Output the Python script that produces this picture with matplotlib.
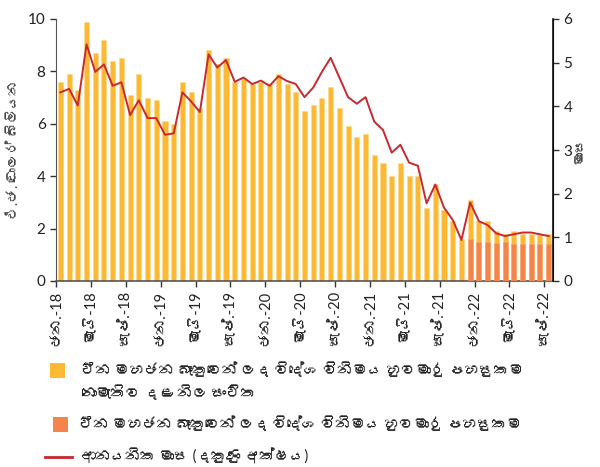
import matplotlib
matplotlib.use("Agg")
import matplotlib.pyplot as plt
from matplotlib import font_manager
from matplotlib.ft2font import FT2Font
from matplotlib.patches import Rectangle
from matplotlib.lines import Line2D
import numpy as np
import pandas as pd

# Monthly data, January 2018 - September 2022
months = pd.period_range("2018-01", "2022-09", freq="M")

# Gross official reserves (USD bn)
reserves = [7.6, 7.9, 7.3, 9.9, 8.7, 9.2, 8.4, 8.5, 7.1, 7.9, 7.0, 6.9,
            6.1, 6.0, 7.6, 7.2, 6.6, 8.8, 8.3, 8.5, 7.6, 7.7, 7.5, 7.6,
            7.5, 7.9, 7.5, 7.2, 6.5, 6.7, 7.0, 7.4, 6.6, 5.9, 5.5, 5.6,
            4.8, 4.5, 4.0, 4.5, 4.0, 4.0, 2.8, 3.7, 2.7, 2.3, 1.6,
            3.1, 2.3, 2.3, 1.9, 1.8, 1.9, 1.8, 1.8, 1.8, 1.8]

# PBOC swap facility component (USD bn)
swap = [0.0] * 47 + [1.6, 1.5, 1.5, 1.45, 1.5, 1.4, 1.4, 1.4, 1.4, 1.4]

# Import cover in months (right axis)
import_months = [4.32, 4.40, 4.02, 5.42, 4.79, 4.96, 4.47, 4.55, 3.80, 4.14, 3.73, 3.73,
                 3.35, 3.38, 4.32, 4.11, 3.87, 5.19, 4.89, 5.06, 4.56, 4.66, 4.51, 4.59,
                 4.47, 4.69, 4.58, 4.51, 4.21, 4.43, 4.79, 5.11, 4.66, 4.21, 4.06, 4.21,
                 3.65, 3.46, 2.94, 3.12, 2.71, 2.64, 1.78, 2.21, 1.68, 1.40, 0.94,
                 1.80, 1.37, 1.28, 1.09, 1.03, 1.07, 1.11, 1.11, 1.07, 1.03]

tick_labels = ["ජන.-18", "මැයි-18", "සැප්.-18", "ජන.-19", "මැයි-19", "සැප්.-19",
               "ජන.-20", "මැයි-20", "සැප්.-20", "ජන.-21", "මැයි-21", "සැප්.-21",
               "ජන.-22", "මැයි-22", "සැප්.-22"]

label_left = "එ.ජ. ඩොලර් බිලියන"
label_right = "මාස"
legend_labels = ["චීන මහජන බැංකුවෙන් ලද විදේශ විනිමය හුවමාරු පහසුකම\nනොමැතිව දළ නිල සංචිත",
                 "චීන මහජන බැංකුවෙන් ලද විදේශ විනිමය හුවමාරු පහසුකම",
                 "ආනයනික මාස (දකුණු අක්ෂය)"]


def font_with_glyphs(sample):
    """Return the family name of an installed font covering every character of sample."""
    candidates = []
    for f in font_manager.fontManager.ttflist:
        try:
            ft = FT2Font(f.fname)
            if all(ft.get_char_index(ord(c)) for c in sample):
                candidates.append(f)
        except Exception:
            continue
    if not candidates:
        return None
    candidates.sort(key=lambda f: abs((f.weight if isinstance(f.weight, int) else 400) - 400))
    return candidates[0].name


sinhala = font_with_glyphs("චීනමහජ")
families = ["Lato", "DejaVu Sans"]
if sinhala:
    families = ["Lato", sinhala, "DejaVu Sans"]
plt.rcParams["font.family"] = families

YELLOW = "#FDB933"
ORANGE = "#F5844A"
RED = "#C8282E"
TXT = "#222222"

W, H = 600, 467
fig = plt.figure(figsize=(W / 100, H / 100), dpi=100)
ax = fig.add_axes([56 / W, 1 - 281 / H, (553 - 56) / W, (281 - 19) / H])
ax2 = ax.twinx()

x = np.arange(len(months))
ax.bar(x, reserves, width=0.58, color=YELLOW, edgecolor="#FFD98A", linewidth=0.4, zorder=2)
ax.bar(x, swap, width=0.58, color=ORANGE, edgecolor="#F9A678", linewidth=0.4, zorder=3)
ax2.plot(x, import_months, color=RED, linewidth=1.4, zorder=4)

ax.set_xlim(-0.5, len(months) - 0.5)
ax.set_ylim(0, 10)
ax.set_yticks(np.arange(0, 11, 2))
ax2.set_ylim(0, 6)
ax2.set_yticks(np.arange(0, 7, 1))

# Month ticks every four months, placed on category boundaries
ax.set_xticks(np.arange(-0.5, len(months) - 1, 4))
ax.set_xticklabels(tick_labels, rotation=90, fontsize=10.5, color=TXT)

for a in (ax, ax2):
    a.spines["top"].set_visible(False)
    a.tick_params(axis="both", direction="out", length=4, width=1, colors="#333333",
                  labelsize=11, labelcolor=TXT)
ax.spines["left"].set_color("#555555")
ax.spines["bottom"].set_color("#555555")
ax.spines["bottom"].set_linewidth(1.2)
ax2.spines["left"].set_visible(False)
ax2.spines["bottom"].set_visible(False)
ax2.spines["right"].set_color("#111111")
ax2.spines["right"].set_linewidth(1.2)
ax.tick_params(axis="x", labelsize=10.5, pad=3)

fig.text(14 / W, 1 - 150 / H, label_left, rotation=90, ha="center", va="center",
         fontsize=10, color="#444444")
fig.text(580 / W, 1 - 150 / H, label_right, rotation=90, ha="center", va="center",
         fontsize=10, color="#444444")

# Legend below the plot
fig.add_artist(Rectangle((50 / W, 1 - 378 / H), 15 / W, 15 / H, transform=fig.transFigure,
                         facecolor=YELLOW, edgecolor="none"))
fig.add_artist(Rectangle((53 / W, 1 - 432 / H), 15 / W, 15 / H, transform=fig.transFigure,
                         facecolor=ORANGE, edgecolor="none"))
fig.add_artist(Line2D([45 / W, 72 / W], [1 - 457 / H, 1 - 457 / H], transform=fig.transFigure,
                      color=RED, linewidth=2))
first, second = legend_labels[0].split("\n")
fig.text(81 / W, 1 - 370 / H, first, ha="left", va="center", fontsize=10.7, color=TXT)
fig.text(81 / W, 1 - 393 / H, second, ha="left", va="center", fontsize=10.7, color=TXT)
fig.text(79 / W, 1 - 424 / H, legend_labels[1], ha="left", va="center", fontsize=10.7, color=TXT)
fig.text(81 / W, 1 - 457 / H, legend_labels[2], ha="left", va="center", fontsize=10.7, color=TXT)

fig.savefig("out.png", dpi=100)
